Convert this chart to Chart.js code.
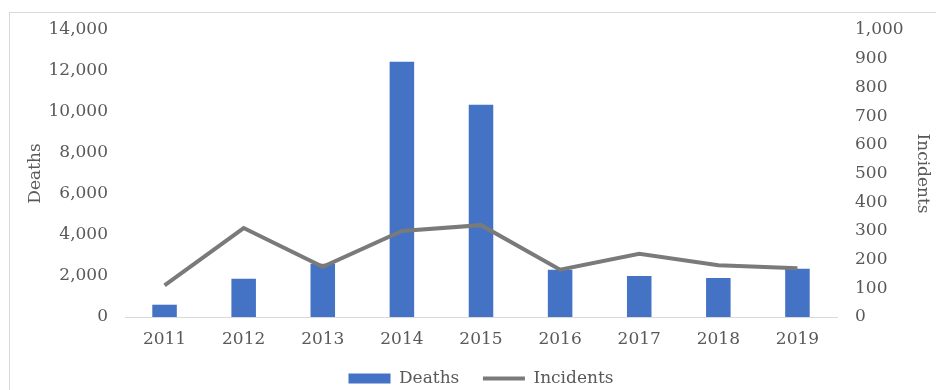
<!DOCTYPE html>
<html>
<head>
<meta charset="utf-8">
<script src="https://cdn.jsdelivr.net/npm/chart.js@4/dist/chart.umd.min.js"></script>
<style>
  html, body { margin: 0; padding: 0; background: #fff; }
  #wrap { position: relative; width: 936px; height: 390px; overflow: hidden; }
  #frame { position: absolute; left: 9px; top: 12px; width: 940px; height: 400px;
           border: 1px solid #d9d9d9; box-sizing: border-box; }
  canvas { position: absolute; left: 0; top: 0; }
</style>
</head>
<body>
<div id="wrap">
  <div id="frame"></div>
  <canvas id="c" width="936" height="390"></canvas>
</div>
<script>
// годы и значения
const years = ['2011', '2012', '2013', '2014', '2015', '2016', '2017', '2018', '2019'];
const deaths = [600, 1870, 2600, 12450, 10350, 2300, 2000, 1900, 2350];
const incidents = [110, 310, 175, 300, 320, 165, 220, 180, 170];

const FONT = { family: '"DejaVu Serif", serif', size: 17 };
const TXT = '#595959';
const BLUE = '#4472C4';
const GREY = '#7a7a7a';

const baseLabels = Chart.defaults.plugins.legend.labels.generateLabels;

new Chart(document.getElementById('c'), {
  data: {
    labels: years,
    datasets: [
      {
        type: 'bar', label: 'Deaths', data: deaths, yAxisID: 'y',
        backgroundColor: BLUE, borderWidth: 0,
        categoryPercentage: 1, barPercentage: 0.31, order: 2,
      },
      {
        type: 'line', label: 'Incidents', data: incidents, yAxisID: 'y1',
        borderColor: GREY, borderWidth: 4, pointRadius: 0, tension: 0,
        fill: false, order: 1, // линия поверх столбиков
      },
    ],
  },
  options: {
    responsive: false,
    animation: false,
    // низ отрицательный: легенда садится ниже, как на оригинале
    layout: { padding: { top: 30, left: 0, right: 0, bottom: -7 } },
    plugins: {
      tooltip: { enabled: false },
      legend: {
        position: 'bottom',
        fullSize: false, // центр легенды по области графика
        labels: {
          color: TXT, font: FONT, usePointStyle: true,
          pointStyleWidth: 42, boxHeight: 10, padding: 2,
          sort: (a, b) => a.datasetIndex - b.datasetIndex,
          generateLabels: chart => baseLabels(chart).map(l => {
            const isBar = l.datasetIndex === 0;
            return {
              ...l,
              text: isBar ? l.text + '    ' : l.text, // зазор между пунктами
              pointStyle: isBar ? 'rect' : 'line',
              fillStyle: isBar ? BLUE : GREY,
              strokeStyle: GREY,
              lineWidth: isBar ? 0 : 4,
            };
          }),
        },
      },
    },
    scales: {
      x: {
        grid: { display: false, drawTicks: false },
        border: { display: true, color: '#d9d9d9', width: 1 },
        ticks: { color: TXT, font: FONT, padding: 12, maxRotation: 0 },
        afterFit: s => { s.height = 51; },
      },
      y: {
        position: 'left', min: 0, max: 14000,
        grid: { display: false, drawTicks: false },
        border: { display: false },
        ticks: {
          stepSize: 2000, color: TXT, font: FONT, padding: 17,
          callback: v => v.toLocaleString('en-US'),
        },
        title: { display: true, text: 'Deaths', color: TXT, font: FONT, padding: { top: 25, bottom: 0 } },
        afterFit: s => { s.width = 125; },
      },
      y1: {
        position: 'right', min: 0, max: 1000,
        grid: { display: false, drawTicks: false },
        border: { display: false },
        ticks: {
          stepSize: 100, color: TXT, font: FONT, padding: 18,
          callback: v => v.toLocaleString('en-US'),
        },
        title: { display: true, text: 'Incidents', color: TXT, font: FONT, padding: { top: 3, bottom: 0 } },
        afterFit: s => { s.width = 99; },
      },
    },
  },
});
</script>
</body>
</html>
